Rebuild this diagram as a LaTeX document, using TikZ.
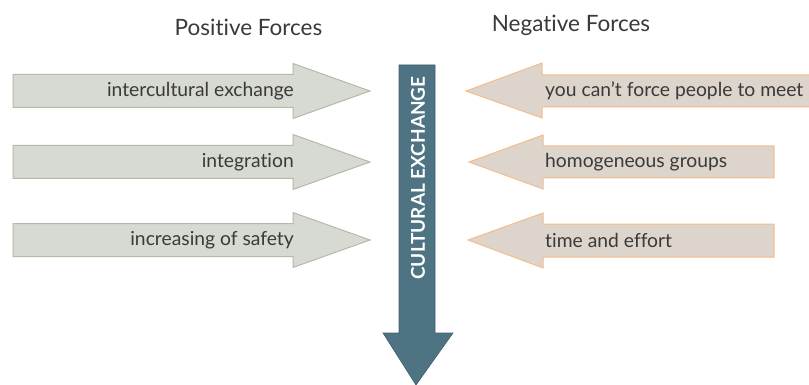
\documentclass[tikz,border=0pt]{standalone}
\usepackage{fontspec}
\setmainfont{Lato}[Ligatures={NoCommon,NoContextual}]
\definecolor{posfill}{HTML}{D7D9D3}
\definecolor{posdraw}{HTML}{B3BAA8}
\definecolor{negfill}{HTML}{DDD4CB}
\definecolor{negdraw}{HTML}{F5BC8C}
\definecolor{midfill}{HTML}{4E7383}
\definecolor{middraw}{HTML}{3F606E}
\definecolor{txt}{HTML}{3A3A3A}
\begin{document}
\begin{tikzpicture}[x=1pt,y=-1pt,
  posarrow/.style={fill=posfill,draw=posdraw,line width=1pt,line join=miter},
  negarrow/.style={fill=negfill,draw=negdraw,line width=1pt,line join=miter},
  midarrow/.style={fill=midfill,draw=middraw,line width=0.6pt},
  lbl/.style={text=txt,font=\fontsize{19.3}{21}\selectfont,inner sep=0pt},
  head/.style={text=txt,font=\fontsize{22.5}{24}\selectfont,inner sep=0pt}]
\useasboundingbox (0,0) rectangle (809,385);
% headers
\node[head] (hpos) at (248.5,27) {Positive Forces};
\node[head] (hneg) at (571,25) {Negative Forces};
% positive arrows
\foreach \c/\t/\n in {91/intercultural exchange/p1, 162/integration/p2, 240/increasing of safety/p3}{
  \draw[posarrow] (13,\c-16.5) -- (293,\c-16.5) -- (293,\c-27.5) -- (370,\c) -- (293,\c+27.5) -- (293,\c+16.5) -- (13,\c+16.5) -- cycle;
  \node[lbl,anchor=east] (\n) at (294,\c) {\t};
}
% negative arrows
\draw[negarrow] (830,75) -- (542,75) -- (542,63) -- (466,91) -- (542,118) -- (542,107) -- (830,107) -- cycle;
\node[lbl,anchor=west] (n1) at (545,91) {you can’t force people to meet};
\draw[negarrow] (774,146) -- (543,146) -- (543,135) -- (469,162) -- (543,189) -- (543,178) -- (774,178) -- cycle;
\node[lbl,anchor=west] (n2) at (545,162) {homogeneous groups};
\draw[negarrow] (774,224) -- (543,224) -- (543,213) -- (468,240) -- (543,268) -- (543,257) -- (774,257) -- cycle;
\node[lbl,anchor=west] (n3) at (545,240) {time and effort};
% central arrow
\draw[midarrow] (399,65) -- (435,65) -- (435,333) -- (453,333) -- (416,385) -- (383,333) -- (399,333) -- cycle;
\node[text=white,font=\bfseries\fontsize{19}{21}\selectfont,rotate=90,inner sep=0pt] (mid) at (418,178) {CULTURAL EXCHANGE};
\end{tikzpicture}
\end{document}
